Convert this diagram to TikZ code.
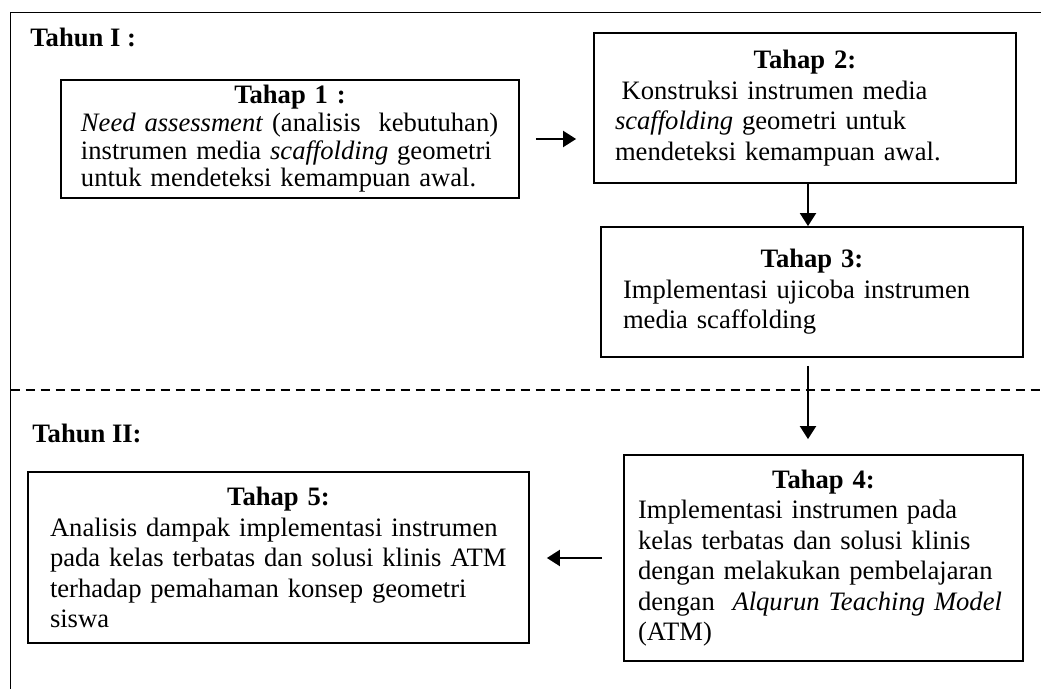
\documentclass[tikz,border=0pt]{standalone}
\usepackage{fontspec}
\setmainfont{Liberation Serif}
\usepackage{tikz}
\usetikzlibrary{arrows.meta}
\newcommand{\tahap}[1]{\makebox[\hsize]{\bfseries #1}\\}

\begin{document}
\begin{tikzpicture}[x=0.5pt,y=-0.5pt]
\tikzset{box/.style={draw,line width=0.9pt,inner ysep=2pt,align=left,font=\fontsize{13.3}{15.25}\selectfont},
flow/.style={line width=1pt,-{Triangle[length=6.5pt,width=8pt]}},
tahun/.style={font=\fontsize{13.3}{15.25}\selectfont\bfseries,anchor=base west,inner sep=0pt}}

\useasboundingbox (0,0) rectangle (1041,689);
\draw[line width=0.7pt] (10.5,689) -- (10.5,12.5) -- (1041,12.5);
\draw[line width=0.7pt,dash pattern=on 4.5pt off 3pt] (10.5,390) -- (1041,390);
\coordinate (axis) at (808,390);

\node[tahun] (th1) at (30,47) {Tahun I :};
\node[tahun] (th2) at (32,443) {Tahun II:};

\node[box,text width=209pt,inner xsep=10pt,minimum height=59pt,font=\fontsize{13.3}{13.8}\selectfont] (tahap1) at (290,139)
{\tahap{Tahap 1 :}\textit{Need assessment} (analisis\ \ kebutuhan)\\ instrumen media \textit{scaffolding} geometri\\ untuk mendeteksi kemampuan awal.};
\node[box,text width=190pt,inner xsep=10.5pt,minimum height=75pt] (tahap2) at (805,108)
{\tahap{Tahap 2:}\hspace*{0.25em}Konstruksi instrumen media\\ \textit{scaffolding} geometri untuk\\ mendeteksi kemampuan awal.};
\node[box,text width=189pt,inner xsep=11pt,minimum height=65pt] (tahap3) at (812,292)
{\tahap{Tahap 3:}Implementasi ujicoba instrumen\\ media scaffolding};
\node[box,text width=185.5pt,inner xsep=7pt,minimum height=103pt] (tahap4) at (823.5,558)
{\tahap{Tahap 4:}Implementasi instrumen pada\\ kelas terbatas dan solusi klinis\\ dengan melakukan pembelajaran\\ dengan\ \ \textit{Alqurun Teaching Model}\\ (ATM)};
\node[box,text width=228.5pt,inner xsep=11pt,minimum height=85.5pt] (tahap5) at (278.5,557.5)
{\tahap{Tahap 5:}Analisis dampak implementasi instrumen\\ pada kelas terbatas dan solusi klinis ATM\\ terhadap pemahaman konsep geometri\\ siswa};

\draw[flow,shorten <=8pt,shorten >=8.5pt] (tahap1.east) -- (tahap1.east -| tahap2.west);
\draw[flow] (tahap2.south -| axis) -- (tahap3.north -| axis);
\draw[flow,shorten <=4pt,shorten >=7.5pt] (tahap3.south -| axis) -- (tahap4.north -| axis);
\draw[flow,shorten <=10.5pt,shorten >=8.5pt] (tahap4.west) -- (tahap4.west -| tahap5.east);
\end{tikzpicture}
\end{document}
